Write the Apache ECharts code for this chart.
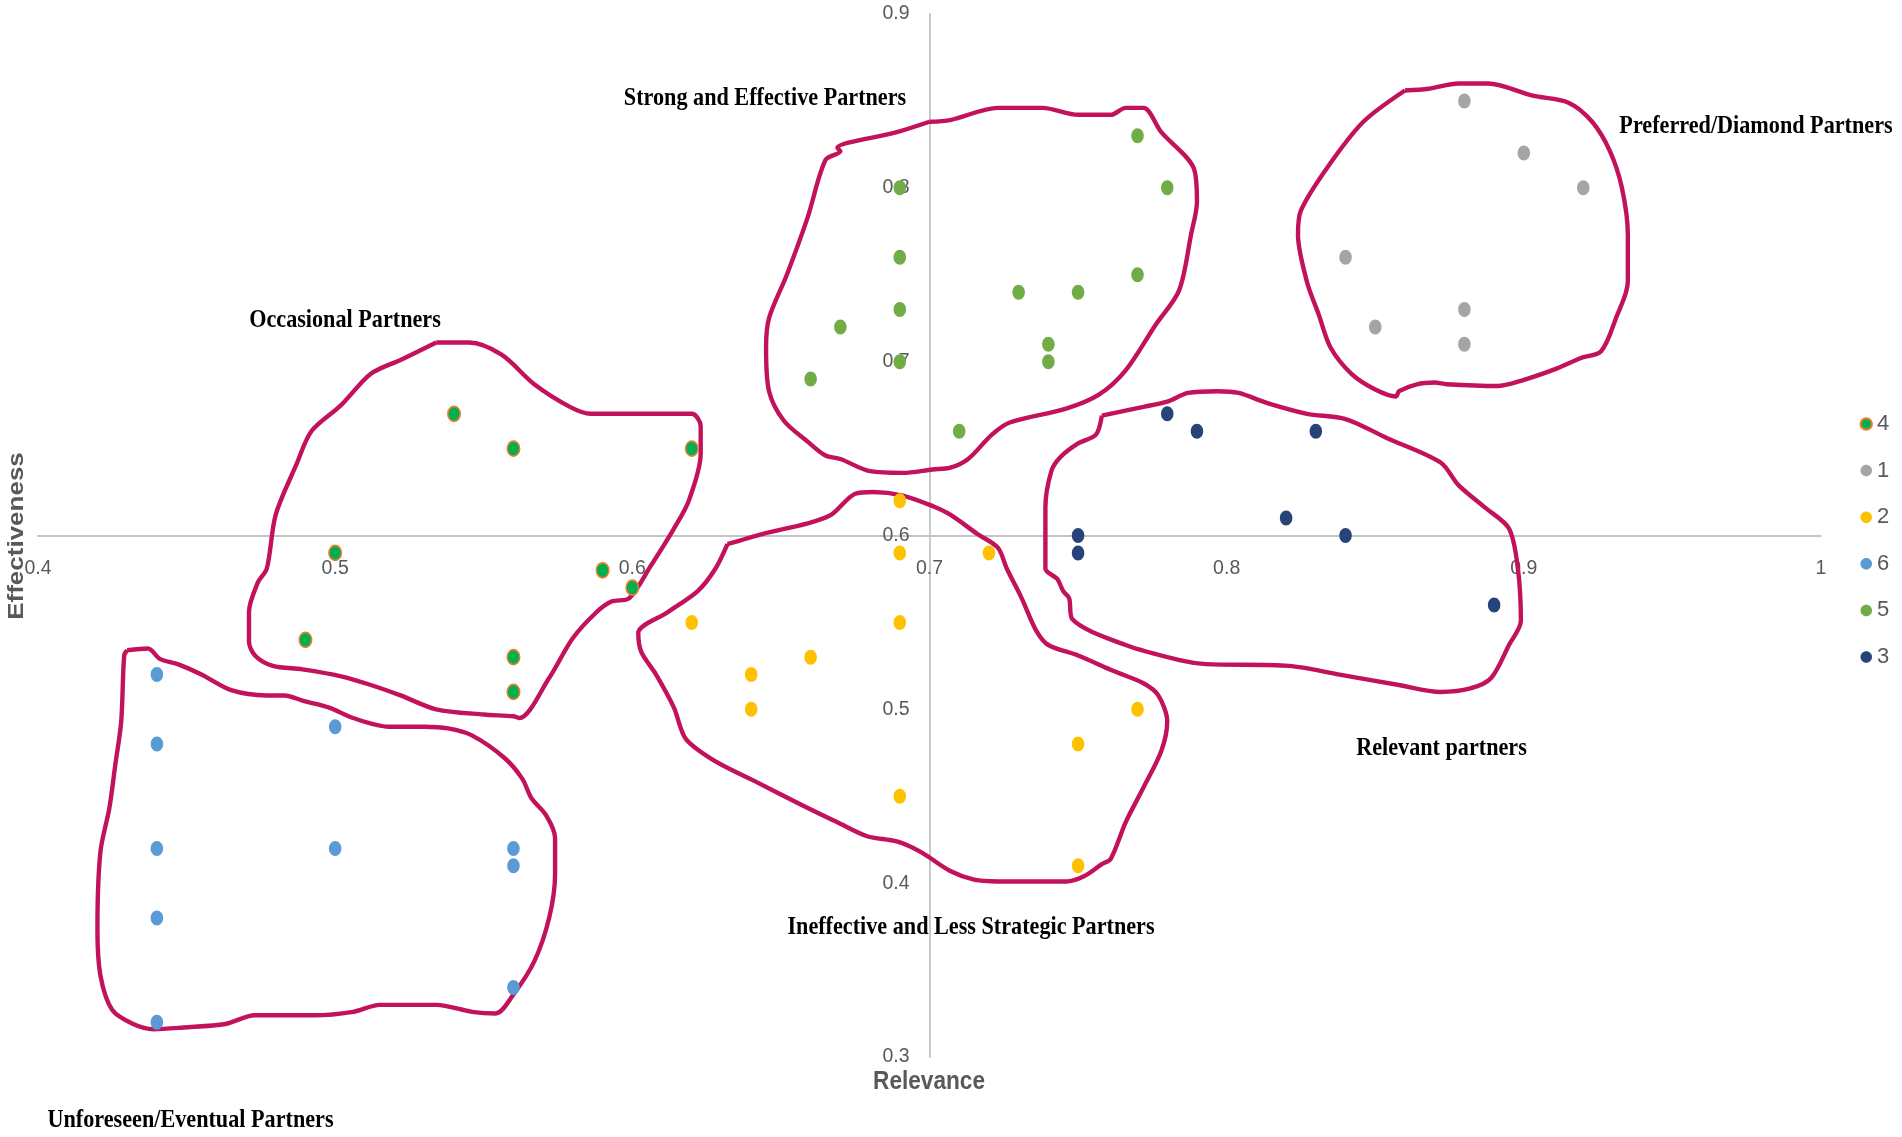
<!DOCTYPE html>
<html>
<head>
<meta charset="utf-8">
<script src="https://cdn.jsdelivr.net/npm/echarts@6/dist/echarts.min.js"></script>
<style>
html,body{margin:0;padding:0;background:#ffffff;}
#chart{width:1902px;height:1137px;}
</style>
</head>
<body>
<div id="chart"></div>
<script>
// ---------- axis settings ----------
const xMin = 0.4, xMax = 1.0, yMin = 0.3, yMax = 0.9, tickStep = 0.1;
const xCross = 0.7, yCross = 0.6;
const xTitle = 'Relevance';
const yTitle = 'Effectiveness';

// ---------- series (legend order) ----------
const seriesNames = ['4', '1', '2', '6', '5', '3'];
const s4 = [[0.54,0.67],[0.56,0.65],[0.62,0.65],[0.50,0.59],[0.59,0.58],[0.60,0.57],[0.49,0.54],[0.56,0.53],[0.56,0.51]];
const s1 = [[0.88,0.85],[0.90,0.82],[0.92,0.80],[0.84,0.76],[0.88,0.73],[0.85,0.72],[0.88,0.71]];
const s2 = [[0.69,0.62],[0.69,0.59],[0.72,0.59],[0.62,0.55],[0.69,0.55],[0.66,0.53],[0.64,0.52],[0.64,0.50],[0.69,0.45],[0.77,0.50],[0.75,0.48],[0.75,0.41]];
const s6 = [[0.44,0.52],[0.50,0.49],[0.44,0.48],[0.44,0.42],[0.50,0.42],[0.56,0.42],[0.56,0.41],[0.44,0.38],[0.56,0.34],[0.44,0.32]];
const s5 = [[0.69,0.80],[0.69,0.76],[0.69,0.73],[0.67,0.72],[0.69,0.70],[0.66,0.69],[0.77,0.83],[0.78,0.80],[0.77,0.75],[0.73,0.74],[0.75,0.74],[0.74,0.71],[0.74,0.70],[0.71,0.66]];
const s3 = [[0.78,0.67],[0.79,0.66],[0.83,0.66],[0.82,0.61],[0.84,0.60],[0.75,0.60],[0.75,0.59],[0.89,0.56]];
const seriesData = [s4, s1, s2, s6, s5, s3];

// ---------- hand-drawn cluster outlines (data coordinates) ----------
const outlineStrong = [[0.700,0.838],[0.689,0.832],[0.669,0.823],[0.670,0.821],[0.665,0.816],[0.659,0.783],[0.652,0.750],[0.646,0.725],[0.645,0.708],[0.646,0.683],[0.651,0.666],[0.659,0.654],[0.665,0.646],[0.670,0.644],[0.680,0.637],[0.691,0.636],[0.701,0.638],[0.707,0.639],[0.713,0.644],[0.721,0.658],[0.727,0.665],[0.746,0.673],[0.757,0.681],[0.766,0.695],[0.776,0.721],[0.784,0.741],[0.788,0.773],[0.790,0.792],[0.789,0.811],[0.778,0.832],[0.772,0.846],[0.766,0.846],[0.761,0.842],[0.750,0.842],[0.738,0.846],[0.723,0.846],[0.707,0.839],[0.700,0.838]];
const outlineDiamond = [[0.860,0.856],[0.868,0.857],[0.878,0.860],[0.888,0.860],[0.903,0.853],[0.915,0.849],[0.923,0.838],[0.929,0.821],[0.933,0.800],[0.935,0.773],[0.935,0.746],[0.931,0.725],[0.926,0.706],[0.919,0.702],[0.911,0.696],[0.899,0.689],[0.891,0.686],[0.874,0.687],[0.870,0.688],[0.864,0.687],[0.858,0.683],[0.857,0.680],[0.850,0.684],[0.842,0.693],[0.835,0.708],[0.831,0.727],[0.827,0.746],[0.824,0.773],[0.825,0.787],[0.834,0.812],[0.846,0.838],[0.860,0.856]];
const outlineOccasional = [[0.534,0.711],[0.545,0.711],[0.556,0.704],[0.567,0.687],[0.579,0.674],[0.586,0.670],[0.601,0.670],[0.620,0.670],[0.623,0.663],[0.623,0.647],[0.619,0.620],[0.614,0.604],[0.606,0.582],[0.599,0.564],[0.593,0.562],[0.588,0.556],[0.580,0.541],[0.572,0.518],[0.562,0.495],[0.560,0.496],[0.550,0.497],[0.534,0.500],[0.522,0.508],[0.512,0.514],[0.502,0.519],[0.489,0.523],[0.479,0.525],[0.473,0.531],[0.471,0.539],[0.471,0.556],[0.474,0.573],[0.477,0.581],[0.480,0.612],[0.487,0.641],[0.492,0.660],[0.502,0.675],[0.512,0.693],[0.522,0.701],[0.534,0.711]];
const outlineIneffective = [[0.632,0.595],[0.644,0.601],[0.659,0.607],[0.667,0.612],[0.675,0.624],[0.681,0.625],[0.691,0.623],[0.701,0.617],[0.707,0.612],[0.716,0.601],[0.723,0.593],[0.726,0.581],[0.731,0.564],[0.736,0.545],[0.740,0.537],[0.750,0.531],[0.762,0.522],[0.772,0.515],[0.777,0.508],[0.780,0.493],[0.778,0.476],[0.772,0.455],[0.766,0.435],[0.761,0.414],[0.758,0.411],[0.752,0.404],[0.746,0.401],[0.723,0.401],[0.715,0.402],[0.707,0.407],[0.697,0.418],[0.689,0.424],[0.679,0.427],[0.669,0.435],[0.657,0.445],[0.642,0.458],[0.628,0.470],[0.618,0.483],[0.614,0.501],[0.608,0.520],[0.603,0.533],[0.602,0.544],[0.612,0.556],[0.622,0.568],[0.628,0.581],[0.632,0.595]];
const outlineRelevant = [[0.758,0.669],[0.772,0.674],[0.780,0.677],[0.787,0.682],[0.797,0.683],[0.804,0.682],[0.814,0.676],[0.827,0.670],[0.840,0.667],[0.854,0.656],[0.872,0.642],[0.878,0.629],[0.887,0.616],[0.895,0.604],[0.898,0.581],[0.899,0.551],[0.895,0.537],[0.889,0.518],[0.882,0.512],[0.872,0.510],[0.858,0.514],[0.838,0.520],[0.821,0.525],[0.793,0.526],[0.785,0.528],[0.766,0.537],[0.748,0.552],[0.747,0.564],[0.745,0.568],[0.743,0.575],[0.739,0.581],[0.739,0.616],[0.741,0.637],[0.744,0.645],[0.750,0.653],[0.756,0.658],[0.758,0.669]];
const outlineUnforeseen = [[0.430,0.534],[0.437,0.535],[0.441,0.529],[0.447,0.526],[0.455,0.520],[0.465,0.511],[0.477,0.508],[0.483,0.508],[0.489,0.505],[0.498,0.501],[0.506,0.495],[0.518,0.490],[0.530,0.490],[0.538,0.489],[0.546,0.485],[0.557,0.472],[0.563,0.460],[0.566,0.449],[0.571,0.439],[0.574,0.426],[0.574,0.405],[0.572,0.380],[0.567,0.355],[0.560,0.336],[0.554,0.325],[0.546,0.326],[0.534,0.330],[0.515,0.330],[0.506,0.326],[0.493,0.324],[0.473,0.324],[0.463,0.319],[0.449,0.317],[0.439,0.316],[0.432,0.319],[0.425,0.327],[0.421,0.347],[0.420,0.374],[0.421,0.418],[0.424,0.443],[0.426,0.468],[0.428,0.493],[0.429,0.531],[0.430,0.534]];
const outlines = [outlineStrong, outlineDiamond, outlineOccasional, outlineIneffective, outlineRelevant, outlineUnforeseen];

// ---------- region labels ----------
const regionLabels = [
  'Strong and Effective Partners',
  'Preferred/Diamond Partners',
  'Occasional Partners',
  'Relevant partners',
  'Ineffective and Less Strategic Partners',
  'Unforeseen/Eventual Partners'
];

// ---------- styles ----------
const seriesColors = ['#00B050', '#A5A5A5', '#FFC000', '#5B9BD5', '#70AD47', '#264478'];
const seriesBorders = ['#ED7D31', null, null, null, null, null];
const outlineColor = '#C2125C';
const axisGrey = '#595959';
const ellipse = 'path://M1,0C1,0.552 0.552,1 0,1C-0.552,1 -1,0.552 -1,0C-1,-0.552 -0.552,-1 0,-1C0.552,-1 1,-0.552 1,0Z';
const labelPos = [[765,98.5],[1756,126],[345,320],[1441.5,748.5],[971,927.5],[190.5,1120.5]];

const chart = echarts.init(document.getElementById('chart'), null, {renderer: 'canvas'});

const series = [];
outlines.forEach(function (pts, i) {
  series.push({
    name: 'outline' + i,
    type: 'line',
    data: pts,
    smooth: 0.3,
    symbol: 'none',
    silent: true,
    z: 1,
    lineStyle: {color: outlineColor, width: 4.4},
    legendHoverLink: false
  });
});
seriesNames.forEach(function (n, i) {
  const st = {color: seriesColors[i], opacity: 1};
  if (seriesBorders[i]) { st.borderColor = seriesBorders[i]; st.borderWidth = 1.6; }
  series.push({
    name: n,
    type: 'scatter',
    data: seriesData[i],
    symbol: ellipse,
    symbolSize: [12.5, 15],
    z: 3,
    itemStyle: st
  });
});

const textFont = function (size, weight, family) {
  return weight + ' ' + size + 'px ' + family;
};

const graphics = regionLabels.map(function (t, i) {
  return {
    type: 'text',
    x: labelPos[i][0],
    y: labelPos[i][1],
    scaleX: 0.87,
    silent: true,
    style: {
      text: t,
      font: textFont(25.5, 'bold', '"Liberation Serif", "DejaVu Serif", serif'),
      fill: '#000000',
      align: 'center', verticalAlign: 'middle',
      textAlign: 'center', textVerticalAlign: 'middle'
    }
  };
});
graphics.push({
  type: 'text', x: 929, y: 1082, scaleX: 0.87, silent: true,
  style: {text: xTitle, font: textFont(26, 'bold', '"Liberation Sans", Arial, sans-serif'), fill: axisGrey,
    align: 'center', verticalAlign: 'middle', textAlign: 'center', textVerticalAlign: 'middle'}
});
graphics.push({
  type: 'text', x: 17, y: 536, rotation: Math.PI / 2, scaleY: 0.87, silent: true,
  style: {text: yTitle, font: textFont(26, 'bold', '"Liberation Sans", Arial, sans-serif'), fill: axisGrey,
    align: 'center', verticalAlign: 'middle', textAlign: 'center', textVerticalAlign: 'middle'}
});

const option = {
  animation: false,
  backgroundColor: '#ffffff',
  grid: {left: 38, top: 14, width: 1783, height: 1043, containLabel: false, outerBoundsMode: 'none'},
  xAxis: {
    type: 'value', min: xMin, max: xMax, interval: tickStep,
    position: 'bottom',
    axisLine: {show: true, onZero: false, lineStyle: {color: '#C4C4C4', width: 1.8}},
    axisTick: {show: false},
    splitLine: {show: false},
    axisLabel: {margin: 23, color: axisGrey, fontSize: 19.5, fontFamily: '"Liberation Sans", Arial, sans-serif'}
  },
  yAxis: {
    type: 'value', min: yMin, max: yMax, interval: tickStep,
    position: 'left',
    axisLine: {show: true, onZero: false, lineStyle: {color: '#C4C4C4', width: 1.8}},
    axisTick: {show: false},
    splitLine: {show: false},
    axisLabel: {margin: 20, color: axisGrey, fontSize: 19.5, fontFamily: '"Liberation Sans", Arial, sans-serif'}
  },
  legend: {
    data: seriesNames.map(function (n) { return {name: n, icon: ellipse}; }),
    orient: 'vertical',
    left: 1854.5, top: 408,
    itemWidth: 11.5, itemHeight: 14, itemGap: 24.6,
    selectedMode: false,
    textStyle: {color: axisGrey, fontSize: 22, lineHeight: 21, fontFamily: '"Liberation Sans", Arial, sans-serif'}
  },
  tooltip: {show: false},
  graphic: graphics,
  series: series
};

chart.setOption(option);

// move axes so they cross at (xCross, yCross), using the library's own scales
const cross = chart.convertToPixel({gridIndex: 0}, [xCross, yCross]);
const corner = chart.convertToPixel({gridIndex: 0}, [xMin, yMin]);
chart.setOption({
  xAxis: {offset: cross[1] - corner[1]},
  yAxis: {offset: corner[0] - cross[0]}
});
</script>
</body>
</html>
